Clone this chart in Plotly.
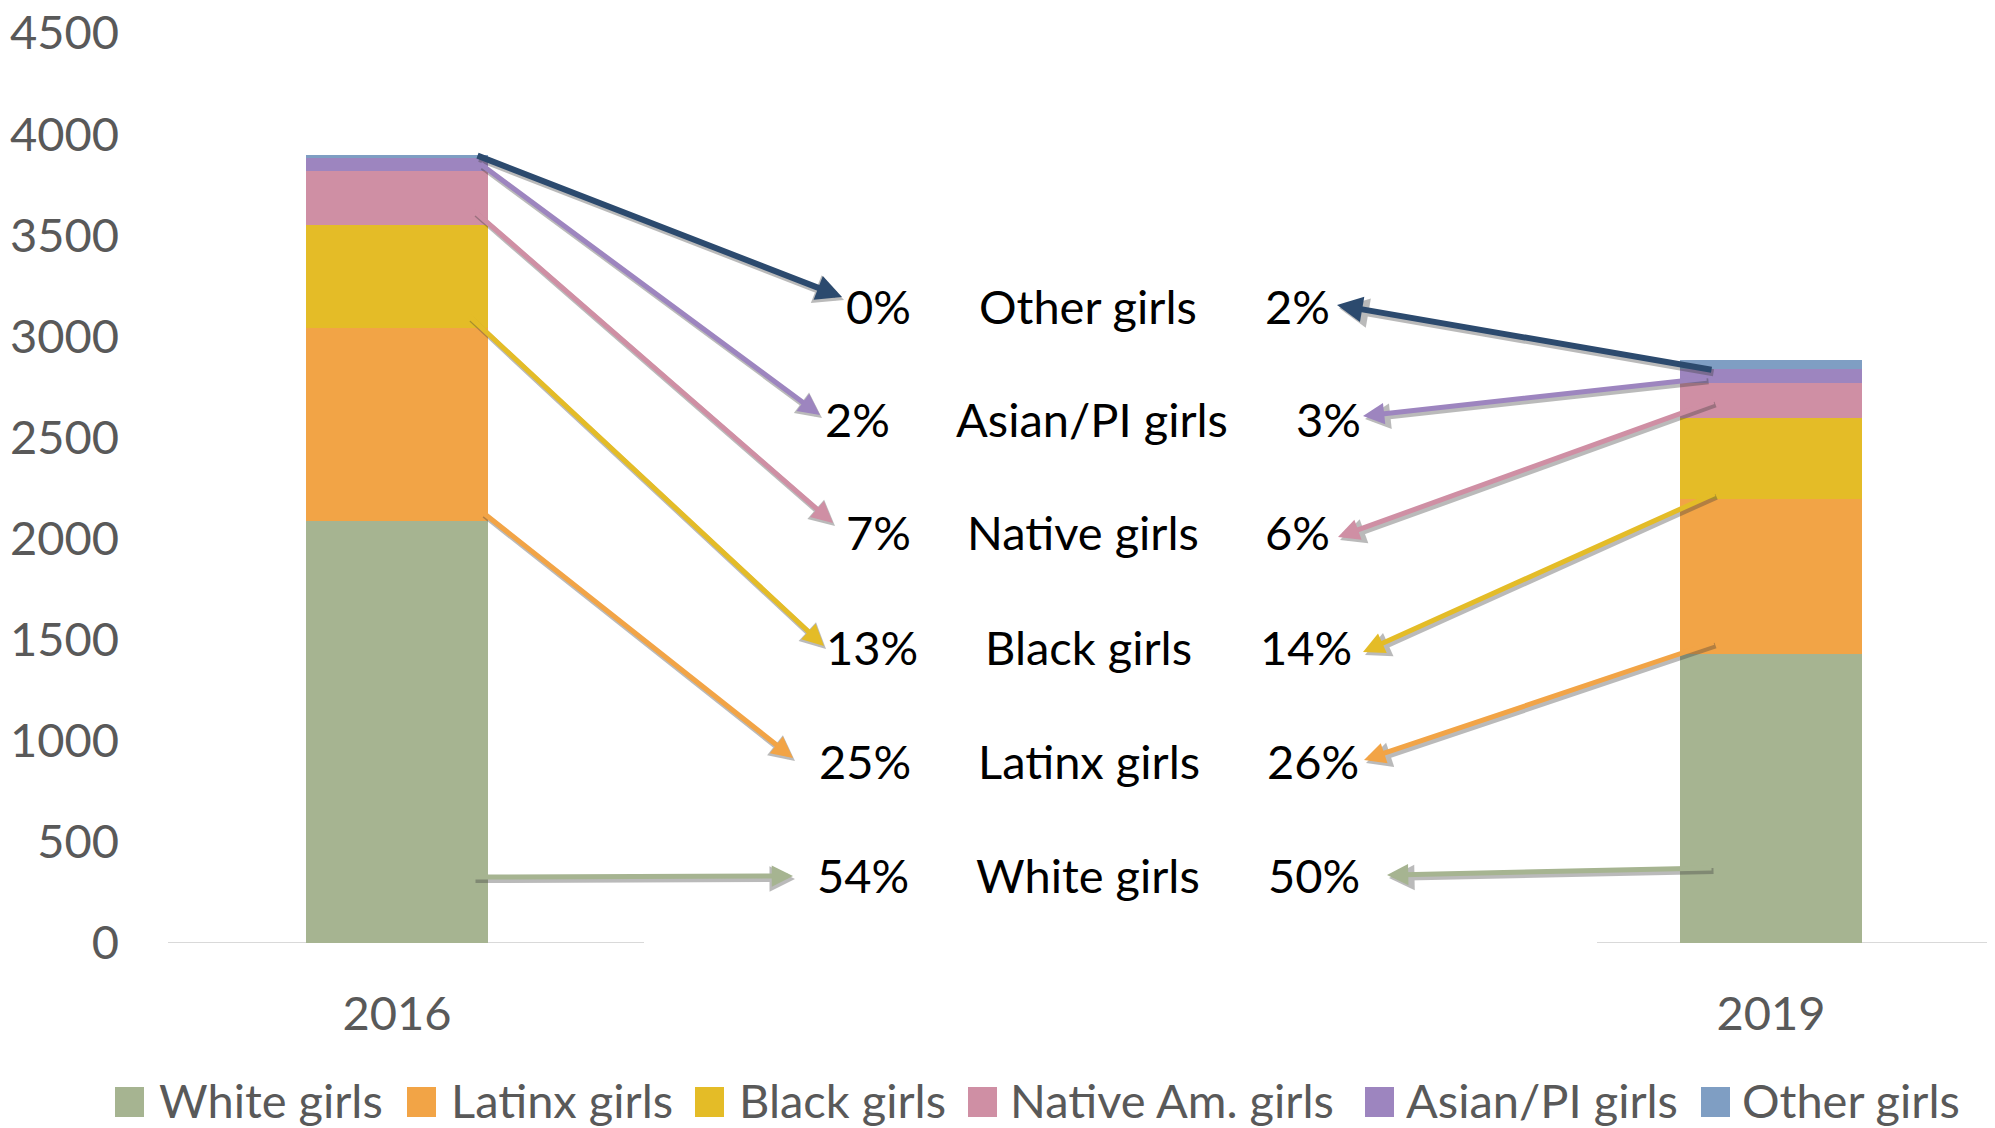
import plotly.graph_objects as go

# ---------------- data ----------------
categories = ["2016", "2019"]
series_names = ["White girls", "Latinx girls", "Black girls",
                "Native Am. girls", "Asian/PI girls", "Other girls"]
white_girls = [2087, 1429]
latinx_girls = [955, 765]
black_girls = [511, 402]
native_girls = [264, 172]
asian_pi_girls = [65, 72]
other_girls = [16, 43]
series_values = [white_girls, latinx_girls, black_girls,
                 native_girls, asian_pi_girls, other_girls]
bar_colors = ["#A6B491", "#F2A446", "#E4BC27", "#CF8FA4", "#9D85BF", "#7F9EC3"]

# middle callout table (top row first)
group_labels = ["Other girls", "Asian/PI girls", "Native girls",
                "Black girls", "Latinx girls", "White girls"]
pct_2016 = ["0%", "2%", "7%", "13%", "25%", "54%"]
pct_2019 = ["2%", "3%", "6%", "14%", "26%", "50%"]
arrow_colors = ["#2C4A6E", "#9D85BF", "#CF8FA4", "#E4BC27", "#F2A446", "#A6B491"]

y_tick_values = [0, 500, 1000, 1500, 2000, 2500, 3000, 3500, 4000, 4500]

# ---------------- layout geometry ----------------
OFF = 8                      # page body margin of the html page
SW, SH = 1995, 1128          # screen size
W, H = SW - OFF, SH - OFF    # figure size
# plot area on screen: x 168..1995, y 33..943
L, T = 168 - OFF, 33 - OFF
R, B = 0, SH - 943
PW, PH = W - L - R, H - T - B
FONT = "Lato, 'Open Sans', sans-serif"
GRAY = "#595959"


def px(x):
    """screen x pixel -> paper"""
    return (x - OFF - L) / PW


def py(y):
    """screen y pixel -> paper"""
    return (T + PH - (y - OFF)) / PH


fig = go.Figure()
for name, vals, col in zip(series_names, series_values, bar_colors):
    fig.add_trace(go.Bar(
        x=categories, y=vals, name=name, width=0.133,
        marker=dict(color=col, line=dict(width=0)),
        showlegend=False,
    ))

annotations = []
shapes = []

# broken category axis line
for x0, x1 in [(168, 644), (1597, 1995)]:
    shapes.append(dict(type="line", xref="paper", yref="y",
                       x0=px(x0), x1=px(x1), y0=0, y1=0,
                       line=dict(color="#D9D9D9", width=2), layer="below"))

# arrows: (tail_x, tail_y, head_x, head_y) in screen pixels, per row
left_arrows = [(476, 155, 842, 297), (479, 163, 820, 415), (473, 210, 833, 523),
               (468, 315, 824, 646), (481, 511, 793, 758), (472, 877, 793, 876)]
right_arrows = [(1713, 370, 1337, 305), (1708, 378, 1363, 416), (1715, 401, 1338, 537),
                (1716, 493, 1363, 652), (1715, 642, 1364, 760), (1713, 868, 1387, 875)]

for arrows in (left_arrows, right_arrows):
    for (tx, ty, hx, hy), col in zip(arrows, arrow_colors):
        w = 6 if col == arrow_colors[0] else 5
        # soft shadow
        annotations.append(dict(
            xref="paper", yref="paper", x=px(hx + 2), y=py(hy + 3),
            ax=tx - hx, ay=ty - hy, text="", showarrow=True,
            arrowhead=2, arrowsize=0.85, arrowwidth=w + 1,
            arrowcolor="rgba(60,60,60,0.35)", standoff=0))
        annotations.append(dict(
            xref="paper", yref="paper", x=px(hx), y=py(hy),
            ax=tx - hx, ay=ty - hy, text="", showarrow=True,
            arrowhead=2, arrowsize=0.85, arrowwidth=w,
            arrowcolor=col, standoff=0))

# callout text rows
row_y = [306, 419, 532, 647, 761, 875]
left_right_edge = [913, 892, 913, 920, 913, 911]
center_x = [1088, 1092, 1083, 1088, 1089, 1088]
right_left_edge = [1263, 1294, 1263, 1258, 1265, 1266]
tfont = dict(family=FONT, size=47, color="#000000")
for i in range(6):
    annotations.append(dict(xref="paper", yref="paper", x=px(left_right_edge[i]),
                            y=py(row_y[i]), text=pct_2016[i], showarrow=False,
                            xanchor="right", yanchor="middle", font=tfont))
    annotations.append(dict(xref="paper", yref="paper", x=px(center_x[i]),
                            y=py(row_y[i]), text=group_labels[i], showarrow=False,
                            xanchor="center", yanchor="middle", font=tfont))
    annotations.append(dict(xref="paper", yref="paper", x=px(right_left_edge[i]),
                            y=py(row_y[i]), text=pct_2019[i], showarrow=False,
                            xanchor="left", yanchor="middle", font=tfont))

# custom legend (large squares like the original)
legend_sq_x = [115, 407, 695, 968, 1365, 1701]
legend_txt_x = [157, 449, 737, 1008, 1404, 1740]
leg_y = 1102
for i, (name, col) in enumerate(zip(series_names, bar_colors)):
    shapes.append(dict(type="rect", xref="paper", yref="paper",
                       x0=px(legend_sq_x[i]), x1=px(legend_sq_x[i] + 29),
                       y0=py(leg_y + 15), y1=py(leg_y - 15),
                       fillcolor=col, line=dict(width=0)))
    annotations.append(dict(xref="paper", yref="paper", x=px(legend_txt_x[i]),
                            y=py(leg_y - 2), text=name, showarrow=False,
                            xanchor="left", yanchor="middle",
                            font=dict(family=FONT, size=47, color=GRAY)))

# x range so that category centres land at screen x 397 and 1771
x_unit = 1771 - 397
x_min = -(397 - 168) / x_unit
x_max = x_min + (SW - 168) / x_unit

fig.update_layout(
    width=W, height=H,
    margin=dict(l=L, r=R, t=T, b=B, pad=0, autoexpand=False),
    barmode="stack",
    paper_bgcolor="white", plot_bgcolor="white",
    showlegend=False,
    font=dict(family=FONT, size=47, color=GRAY),
    xaxis=dict(type="category", range=[x_min, x_max], showgrid=False,
               showline=False, zeroline=False, ticks="", automargin=False,
               tickfont=dict(family=FONT, size=47, color=GRAY),
               ticklabelstandoff=39, ticklabeloverflow="allow"),
    yaxis=dict(range=[0, 4500], tickvals=y_tick_values, showgrid=False,
               showline=False, zeroline=False, ticks="", automargin=False,
               tickfont=dict(family=FONT, size=47, color=GRAY),
               ticklabelstandoff=48, ticklabeloverflow="allow"),
    annotations=annotations,
    shapes=shapes,
)

fig.write_html("out.html")
